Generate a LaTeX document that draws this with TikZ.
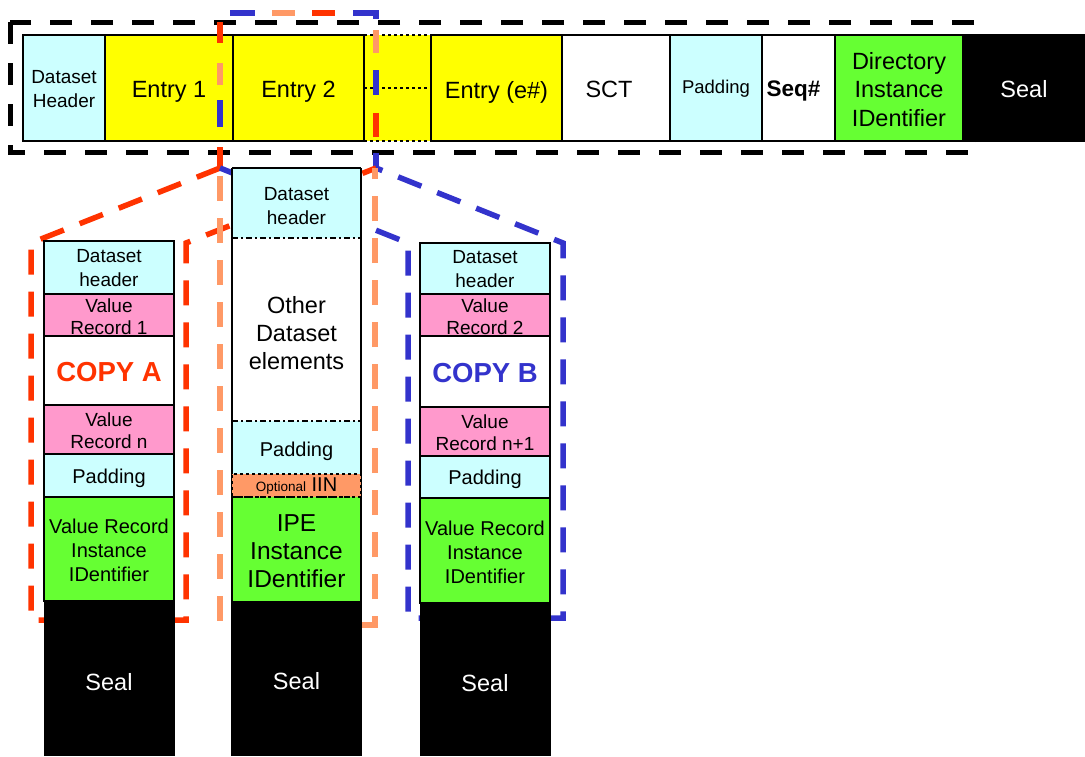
\documentclass[tikz,border=0pt]{standalone}
\usepackage{fontspec}
\setmainfont{Liberation Sans}
\definecolor{cellcyan}{HTML}{CCFFFF}
\definecolor{cellyellow}{HTML}{FFFF00}
\definecolor{cellpink}{HTML}{FF99CC}
\definecolor{cellgreen}{HTML}{66FF33}
\definecolor{zred}{HTML}{FF3300}
\definecolor{zorange}{HTML}{FF9966}
\definecolor{zblue}{HTML}{3333CC}
\newcommand\fsz[2]{\fontsize{#1}{#2}\selectfont}
% name, x, y, width, height, box style, text style, text
\newcommand\mkcell[8]{%
  \node[cell,#6,minimum width=#4,minimum height=#5] (#1) at (#2,#3) {};
  \node[txt,#7] (#1t) at (#1.center) {#8};}
\begin{document}
\begin{tikzpicture}[x=1pt,y=-1pt,
  cell/.style={draw=black,line width=1.5pt,inner sep=0pt,outer sep=0pt,anchor=north west},
  plain/.style={draw=none},
  txt/.style={inner sep=0pt,align=center},
  zoomline/.style={line width=5.5pt,dash pattern=on 25pt off 17pt},
  seg/.style={line width=5.5pt},
  dashdotline/.style={line width=1.5pt,dash pattern=on 6pt off 3pt on 2pt off 3pt},
  t18/.style={font=\fsz{19}{24}},
  t19/.style={font=\fsz{20}{23}},
  t22/.style={font=\fsz{23.5}{28.5}},
  vr/.style={font=\fsz{19}{22}},
  seal/.style={fill=black,draw=none},
]
\useasboundingbox (0,0) rectangle (1085,756);
\fill[white] (0,0) rectangle (1085,756);

% outer dashed frame
\draw[line width=5pt,dash pattern=on 22pt off 19pt] (10,22) rectangle (977,152);

% top bar
\node[cell,plain,fill=cellyellow,minimum width=67,minimum height=106] (ed) at (364,35) {};
\draw[line width=1.2pt,dashed] (ed.north west) -- (ed.north east);
\draw[line width=1.2pt,dashed] (ed.south west) -- (ed.south east);
\draw[line width=1.2pt,dashed] (ed.west) -- (ed.east);
\mkcell{dh}{23}{35}{82}{106}{fill=cellcyan}{t18,yshift=-1pt}{Dataset\\Header}
\mkcell{e1}{105}{35}{128}{106}{fill=cellyellow}{t22,yshift=-4pt}{Entry 1}
\mkcell{e2}{233}{35}{131}{106}{fill=cellyellow}{t22,yshift=-4pt}{Entry 2}
\mkcell{ee}{431}{35}{131}{106}{fill=cellyellow}{t22,yshift=-4pt}{Entry (e\#)}
\mkcell{sct}{562}{35}{108}{106}{fill=white}{t22,xshift=-7pt,yshift=-1pt}{SCT}
\mkcell{pad}{670}{35}{92}{106}{fill=cellcyan}{font=\fsz{18.5}{22},yshift=-1pt}{Padding}
\mkcell{seq}{762}{35}{73}{106}{fill=white}{font=\fsz{22.5}{26}\bfseries,xshift=-5pt,yshift=-3pt}{Seq\#}
\mkcell{dii}{835}{35}{128}{106}{fill=cellgreen}{t22,yshift=-1.5pt}{Directory\\Instance\\IDentifier}
\mkcell{seal}{963}{34}{122}{108}{seal}{t22,text=white,yshift=-1pt}{Seal}

% zoom outlines: shared upper part (interleaved dashes of the three outlines)
\coordinate (ztl) at (220,13);
\coordinate (ztr) at (376,13);
\coordinate (zbl) at (220,168);
\coordinate (zbr) at (376,168);
\draw[seg,zred] (220,22) -- (220,43) (220,147) -- (zbl) (312,13) -- (335,13) (376,113) -- (376,137);
\draw[seg,zorange] (220,63) -- (220,85) (272,13) -- (295,13) (376,30) -- (376,53);
\draw[seg,zblue] (220,100) -- (220,127) (230,13) -- (255,13) (353,13) -- (ztr) -- (376,19) (376,70) -- (376,95) (376,153) -- (zbr);
% lower parts
\draw[zoomline,zred] (zbl) -- (31,243) -- (31,620) -- (186,620) -- (186,243) -- (zbr);
\draw[zoomline,zblue] (zbl) -- (408,243) -- (408,618) -- (563,618) -- (563,243) -- (zbr);
\draw[zoomline,zorange] (220,176) -- (220,625) -- (375,625) -- (375,168);

% left column: copy A
\mkcell{a1}{44}{241}{130}{53}{fill=cellcyan}{t18,yshift=-1pt}{Dataset\\header}
\mkcell{a2}{44}{294}{130}{42}{fill=cellpink}{vr,yshift=-1.5pt}{Value\\Record 1}
\mkcell{a3}{44}{336}{130}{69}{fill=white}{font=\fsz{27.5}{30}\bfseries,text=zred,yshift=-2pt}{COPY A}
\mkcell{a4}{44}{405}{130}{49}{fill=cellpink}{vr,yshift=-1.5pt}{Value\\Record n}
\mkcell{a5}{44}{454}{130}{43}{fill=cellcyan}{t19,yshift=-2.5pt}{Padding}
\mkcell{a6}{44}{497}{130}{104}{fill=cellgreen}{font=\fsz{20}{24},yshift=-1.5pt}{Value Record\\Instance\\IDentifier}
\mkcell{a7}{43.5}{601}{131}{155}{seal}{t22,text=white,yshift=-4pt}{Seal}

% right column: copy B
\mkcell{b1}{420}{243}{130}{51}{fill=cellcyan}{t18,yshift=-1pt}{Dataset\\header}
\mkcell{b2}{420}{294}{130}{42}{fill=cellpink}{vr,yshift=-1.5pt}{Value\\Record 2}
\mkcell{b3}{420}{336}{130}{71}{fill=white}{font=\fsz{27.5}{30}\bfseries,text=zblue,yshift=-2pt}{COPY B}
\mkcell{b4}{420}{407}{130}{49}{fill=cellpink}{vr,yshift=-1.5pt}{Value\\Record n+1}
\mkcell{b5}{420}{456}{130}{42}{fill=cellcyan}{t19,yshift=-2.5pt}{Padding}
\mkcell{b6}{420}{498}{130}{105}{fill=cellgreen}{font=\fsz{20}{24},yshift=-1.5pt}{Value Record\\Instance\\IDentifier}
\mkcell{b7}{419.5}{603}{131}{153}{seal}{t22,text=white,yshift=-4pt}{Seal}

% middle column
\mkcell{m1}{232}{168}{129}{70}{plain,fill=cellcyan}{t18,yshift=-3pt}{Dataset\\header}
\mkcell{m2}{232}{238}{129}{183}{plain,fill=white}{font=\fsz{23.5}{28},yshift=-4pt}{Other\\Dataset\\elements}
\mkcell{m3}{232}{421}{129}{53}{plain,fill=cellcyan}{t19,yshift=-3.5pt}{Padding}
\mkcell{m5}{232}{497}{129}{104}{plain,fill=cellgreen}{font=\fsz{24.5}{28},yshift=-2pt}{IPE\\Instance\\IDentifier}
\mkcell{m6}{232}{601}{129}{155}{seal}{t22,text=white,yshift=-3pt}{Seal}
\draw[line width=1.5pt] (m1.north west) -- (m1.north east);
\draw[line width=1.5pt] (m1.north west) -- (m6.south west);
\draw[line width=1.5pt] (m1.north east) -- (m6.south east);
\draw[dashdotline] (m1.south west) -- (m1.south east);
\draw[dashdotline] (m3.north west) -- (m3.north east);
\mkcell{m4}{232}{474}{129}{23}{dashed,fill=zorange}{font=\fsz{20}{22},yshift=-1pt}{{\fsz{13.5}{15}Optional} IIN}
\draw[dashdotline] (m5.north west) -- (m5.north east);
\end{tikzpicture}
\end{document}
